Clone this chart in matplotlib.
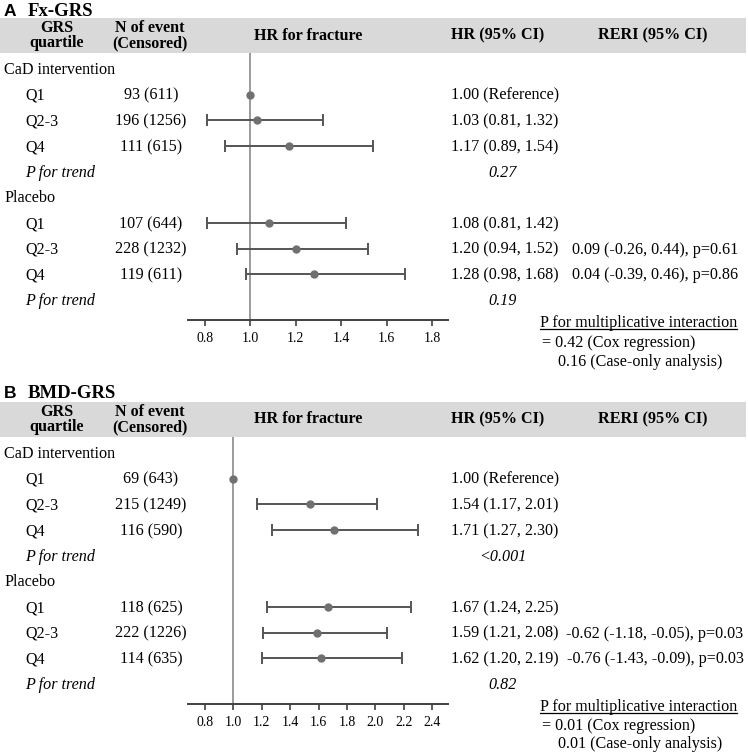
import numpy as np
import matplotlib
matplotlib.use('Agg')
import matplotlib.pyplot as plt
import matplotlib.transforms as mtransforms
from matplotlib.patches import Rectangle
from matplotlib.lines import Line2D

plt.rcParams['font.family'] = ['Liberation Serif', 'DejaVu Serif']

# data
groups = ['CaD intervention', 'Placebo']
quartiles = ['Q1', 'Q2-3', 'Q4']

events_a = ['93 (611)', '196 (1256)', '111 (615)', '107 (644)', '228 (1232)', '119 (611)']
hr_a = [1.00, 1.03, 1.17, 1.08, 1.20, 1.28]
lo_a = [np.nan, 0.81, 0.89, 0.81, 0.94, 0.98]
hi_a = [np.nan, 1.32, 1.54, 1.42, 1.52, 1.68]
reri_a = ['', '', '', '', '0.09 (-0.26, 0.44), p=0.61', '0.04 (-0.39, 0.46), p=0.86']
ptrend_a = ['0.27', '0.19']
inter_a = ['0.42', '0.16']
ticks_a = [0.8, 1.0, 1.2, 1.4, 1.6, 1.8]

events_b = ['69 (643)', '215 (1249)', '116 (590)', '118 (625)', '222 (1226)', '114 (635)']
hr_b = [1.00, 1.54, 1.71, 1.67, 1.59, 1.62]
lo_b = [np.nan, 1.17, 1.27, 1.24, 1.21, 1.20]
hi_b = [np.nan, 2.01, 2.30, 2.25, 2.08, 2.19]
reri_b = ['', '', '', '', '-0.62 (-1.18, -0.05), p=0.03', '-0.76 (-1.43, -0.09), p=0.03']
ptrend_b = ['<0.001', '0.82']
inter_b = ['0.01', '0.01']
ticks_b = [0.8, 1.0, 1.2, 1.4, 1.6, 1.8, 2.0, 2.2, 2.4]

W, H = 748, 752
fig = plt.figure(figsize=(W / 100, H / 100), dpi=100)

def fx(x):
    return x / W

def fy(y):
    return 1 - y / H

FS = 11.6
ERR_C = '#555555'
DOT_C = '#707070'


def panel(letter, name, off, title_y, note_y, events, hr, lo, hi, reri, ptrend, inter, ticks):
    # titles (baseline positions)
    fig.text(fx(4), fy(title_y), letter, family='Liberation Sans', weight='bold',
             fontsize=12.5, va='baseline', ha='left')
    fig.text(fx(28), fy(title_y), name, weight='bold', fontsize=13.5, va='baseline', ha='left')

    # header band
    fig.add_artist(Rectangle((0, fy(53 + off)), fx(746), 35 / H, transform=fig.transFigure,
                             facecolor='#d9d9d9', edgecolor='none', zorder=0))
    hy = fy(35.5 + off)
    fig.text(fx(57), hy, 'GRS\nquartile', weight='bold', fontsize=FS, ha='center', va='center',
             linespacing=0.95)
    fig.text(fx(150), hy, 'N of event\n(Censored)', weight='bold', fontsize=FS, ha='center',
             va='center', linespacing=0.95)
    fig.text(fx(308), hy, 'HR for fracture', weight='bold', fontsize=FS, ha='center', va='center')
    fig.text(fx(451), hy, 'HR (95% CI)', weight='bold', fontsize=FS, ha='left', va='center')
    fig.text(fx(653), hy, 'RERI (95% CI)', weight='bold', fontsize=FS, ha='center', va='center')

    # forest axis
    x0, x1 = 188, 448
    ax = fig.add_axes([fx(x0), fy(320 + off), (x1 - x0) / W, 267 / H])
    # x limits so that first/last tick land at 205 px and 432 px
    t0, t1 = ticks[0], ticks[-1]
    per_px = (t1 - t0) / (432 - 205)
    ax.set_xlim(t0 - (205 - x0) * per_px, t1 + (x1 - 432) * per_px)
    ax.set_ylim(9.78, -0.62)
    ax.axvline(1.0, color='#8a8a8a', lw=1.2, zorder=1)

    rows = [1, 2, 3, 6, 7, 8]
    for r, h, l, u in zip(rows, hr, lo, hi):
        if not np.isnan(l):
            ax.errorbar(h, r, xerr=[[h - l], [u - h]], fmt='none', ecolor=ERR_C,
                        elinewidth=1.4, capsize=4.2, capthick=1.4, zorder=2, clip_on=False)
        ax.plot(h, r, 'o', color=DOT_C, ms=5, zorder=3, clip_on=False)

    for s in ['top', 'right', 'left']:
        ax.spines[s].set_visible(False)
    ax.spines['bottom'].set_color('#404040')
    ax.spines['bottom'].set_linewidth(1.4)
    ax.set_yticks([])
    ax.set_xticks(ticks)
    ax.set_xticklabels(['%.1f' % t for t in ticks])
    ax.tick_params(axis='x', direction='out', length=4, width=1.2, color='#404040',
                   labelsize=10, pad=5)
    ax.patch.set_visible(False)

    tr = mtransforms.blended_transform_factory(fig.transFigure, ax.transData)
    b = 0.2  # baseline offset below row centre
    for gi, g in enumerate(groups):
        base = gi * 5
        ax.text(fx(4), base + b, g, transform=tr, fontsize=FS, ha='left', va='baseline')
        for qi, q in enumerate(quartiles):
            r = base + 1 + qi
            k = gi * 3 + qi
            ax.text(fx(25), r + b, q, transform=tr, fontsize=FS, ha='left', va='baseline')
            ax.text(fx(151), r + b, events[k], transform=tr, fontsize=FS, ha='center', va='baseline')
            if np.isnan(lo[k]):
                hr_txt = '%.2f (Reference)' % hr[k]
            else:
                hr_txt = '%.2f (%.2f, %.2f)' % (hr[k], lo[k], hi[k])
            ax.text(fx(451), r + b, hr_txt, transform=tr, fontsize=FS, ha='left', va='baseline')
            if reri[k]:
                ax.text(fx(655), r + b, reri[k], transform=tr, fontsize=FS, ha='center',
                        va='baseline')
        ax.text(fx(25), base + 4 + b, 'P for trend', transform=tr, fontsize=FS, style='italic',
                ha='left', va='baseline')
        ax.text(fx(503), base + 4 + b, ptrend[gi], transform=tr, fontsize=FS, style='italic',
                ha='center', va='baseline')

    # interaction note
    t = fig.text(fx(540), fy(note_y[0]), 'P for multiplicative interaction', fontsize=FS,
                 ha='left', va='baseline')
    fig.text(fx(542), fy(note_y[1]), '= %s (Cox regression)' % inter[0], fontsize=FS,
             ha='left', va='baseline')
    fig.text(fx(558), fy(note_y[2]), '%s (Case-only analysis)' % inter[1], fontsize=FS,
             ha='left', va='baseline')
    return t


under = []
under.append(panel('A', 'Fx-GRS', 0, 16, (327, 347, 366),
                   events_a, hr_a, lo_a, hi_a, reri_a, ptrend_a, inter_a, ticks_a))
under.append(panel('B', 'BMD-GRS', 384, 398, (711, 730, 747.5),
                   events_b, hr_b, lo_b, hi_b, reri_b, ptrend_b, inter_b, ticks_b))

fig.canvas.draw()
inv = fig.transFigure.inverted()
for t in under:
    bb = t.get_window_extent()
    xa, _ = inv.transform((bb.x0, 0))
    xb, _ = inv.transform((bb.x1, 0))
    yb = t.get_position()[1] - 2.0 / H
    fig.add_artist(Line2D([xa, xb], [yb, yb], transform=fig.transFigure, color='black', lw=0.9))

fig.savefig('out.png', dpi=100)
